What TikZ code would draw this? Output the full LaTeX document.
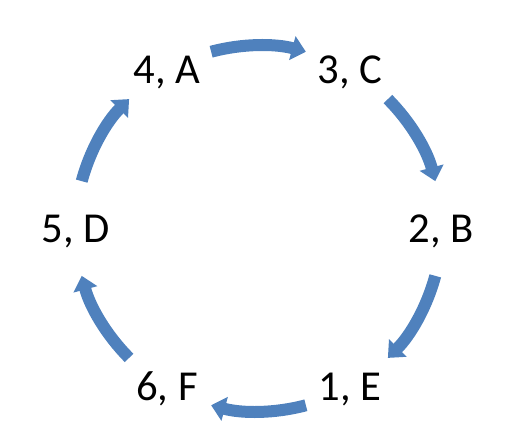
\documentclass[tikz,border=0pt]{standalone}
\usepackage{fontspec}
\setmainfont{Carlito}
\usepackage{tikz}
\usetikzlibrary{arrows.meta, calc}
\definecolor{arrowblue}{RGB}{79,129,189}
\tikzset{
  lbl/.style ={font=\fontsize{32}{38}\selectfont, text height=20.5pt, text depth=0pt, inner sep=0pt},
  cyc/.style ={-{Triangle[length=10.5pt, width=18pt]}, line width=9pt, arrowblue}, % one step of the cycle
}
\begin{document}
\begin{tikzpicture}[x=0.75pt, y=0.75pt]
  \useasboundingbox (0,0) rectangle (519,437);
  \coordinate (o) at (258.5,208.5);
  % labels
  \node[lbl] (n4) at ($(o)+(120:183)$)  {4, A};
  \node[lbl] (n3) at ($(o)+(60:183)$)   {3, C};
  \node[lbl] (n2) at ($(o)+(0:183)$)    {2, B};
  \node[lbl] (n1) at ($(o)+(-60:183)$)  {1, E};
  \node[lbl] (n6) at ($(o)+(-120:183)$) {6, F};
  \node[lbl] (n5) at ($(o)+(180:183)$)  {5, D};
  % arrows, clockwise
  \foreach \m in {90,30,-30,-90,-150,150}
    \draw[cyc] ($(o)+(\m+15:183)$) arc[start angle=\m+15, end angle=\m-15, radius=183];
\end{tikzpicture}
\end{document}
